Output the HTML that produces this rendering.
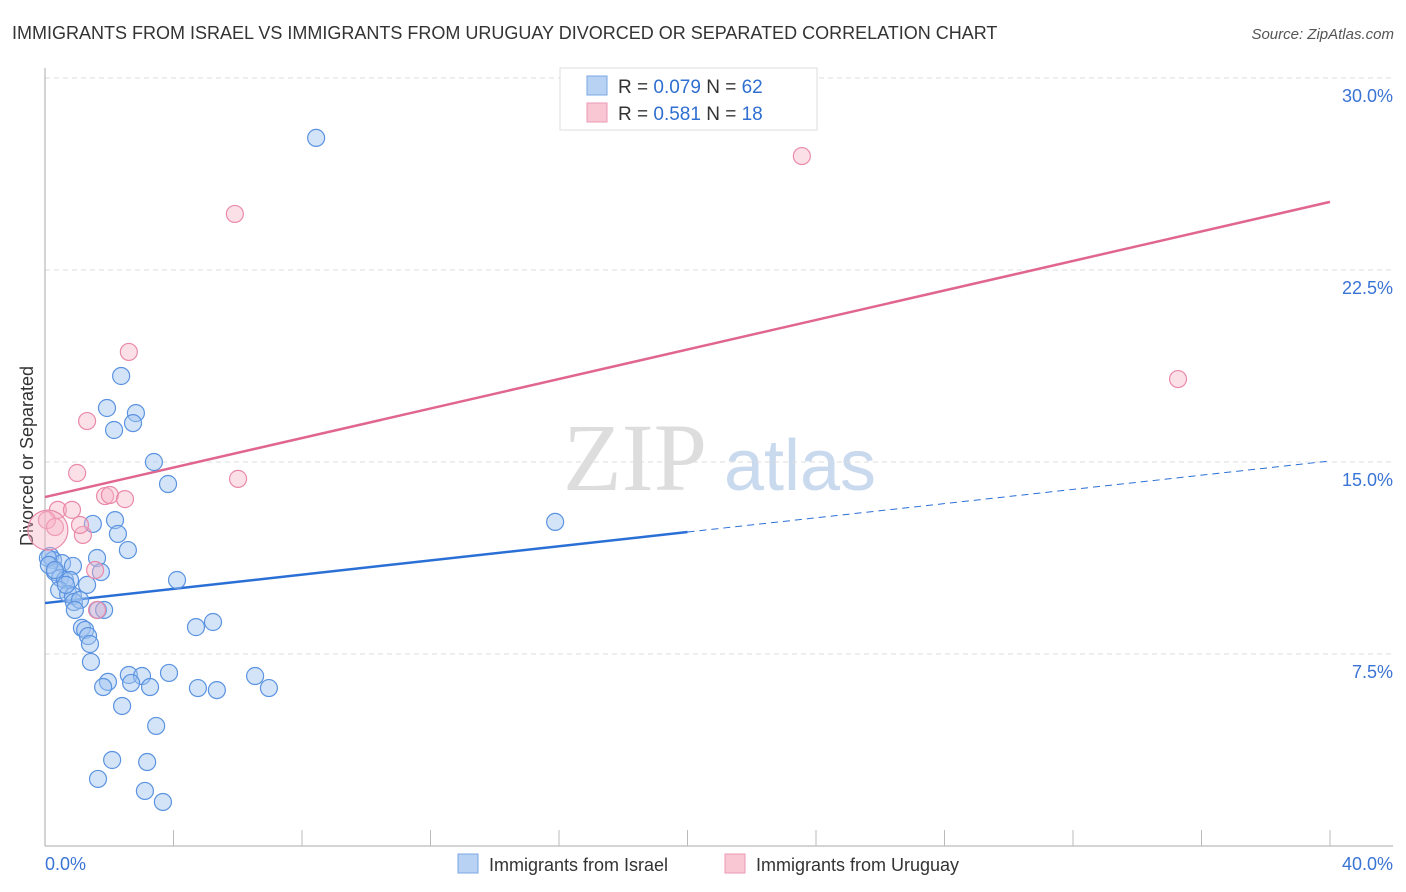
<!DOCTYPE html>
<html><head><meta charset="utf-8"><style>
body{margin:0;background:#fff;font-family:"Liberation Sans",sans-serif;}
svg{display:block}
</style></head><body>
<svg id="chart" width="1406" height="892" xmlns="http://www.w3.org/2000/svg">
<text x="12" y="39" font-size="18" fill="#333">IMMIGRANTS FROM ISRAEL VS IMMIGRANTS FROM URUGUAY DIVORCED OR SEPARATED CORRELATION CHART</text>
<text x="1394" y="39" font-size="15" fill="#555" font-style="italic" text-anchor="end">Source: ZipAtlas.com</text>
<text x="0" y="0" transform="translate(33,456) rotate(-90)" font-size="18" fill="#333" text-anchor="middle">Divorced or Separated</text>
<g><text x="635" y="490" font-size="96" fill="#ddd" font-family="Liberation Serif,serif" text-anchor="middle">ZIP</text><text x="800" y="490" font-size="72" fill="#c9d9ee" text-anchor="middle">atlas</text></g>
<g id="grid"></g><g id="axes"></g><g id="lines"></g><g id="pts"></g>
<g>
<rect x="560" y="68" width="257" height="62" fill="#fff" stroke="#ddd"/>
<rect x="587" y="76" width="20" height="19" fill="#b8d2f4" stroke="#7aa7e4"/>
<rect x="587" y="103" width="20" height="19" fill="#f9c6d4" stroke="#ec9ab4"/>
<text x="618" y="93" font-size="19" fill="#333">R = <tspan fill="#2f6fd0">0.079</tspan>   N = <tspan fill="#2f6fd0">62</tspan></text>
<text x="618" y="120" font-size="19" fill="#333">R =  <tspan fill="#2f6fd0">0.581</tspan>   N =  <tspan fill="#2f6fd0">18</tspan></text>
</g>
<g>
<rect x="458" y="854" width="20" height="19" fill="#b8d2f4" stroke="#7aa7e4"/>
<text x="489" y="871" font-size="18" fill="#333">Immigrants from Israel</text>
<rect x="725" y="854" width="20" height="19" fill="#f9c6d4" stroke="#ec9ab4"/>
<text x="756" y="871" font-size="18" fill="#333">Immigrants from Uruguay</text>
</g>
</svg>
<script>
const yTicks=[7.5,15,22.5,30];
const yTickLabels=["7.5%","15.0%","22.5%","30.0%"];
const xTickLabels=["0.0%","40.0%"];
const israelX=[8.44,2.37,1.93,2.83,2.15,2.74,3.39,3.83,15.88,2.18,1.49,2.27,2.58,1.62,0.16,0.25,0.53,0.87,0.31,1.74,0.47,0.62,0.78,1.31,0.44,0.72,0.87,0.90,4.11,1.65,1.84,1.15,1.25,1.34,1.40,1.43,4.70,5.23,2.61,3.02,3.86,6.54,1.96,1.81,2.68,3.27,4.76,5.35,6.97,2.40,3.46,2.09,3.18,1.65,3.11,3.67,0.09,0.12,0.31,1.09,0.93,0.65];
const israelY=[27.66,18.36,17.11,16.91,16.25,16.52,15.0,14.14,12.66,12.73,12.58,12.19,11.56,11.25,11.33,11.17,11.05,10.94,10.70,10.70,10.47,10.39,10.39,10.20,10.0,9.84,9.77,9.53,10.39,9.22,9.22,8.52,8.44,8.20,7.89,7.19,8.55,8.75,6.68,6.64,6.76,6.64,6.41,6.21,6.37,6.21,6.17,6.09,6.17,5.47,4.69,3.36,3.28,2.62,2.15,1.72,11.25,10.98,10.78,9.61,9.22,10.20];
const uruguayX=[23.56,5.91,2.61,35.27,1.31,1.0,6.01,1.87,2.02,2.49,0.40,0.84,0.06,0.31,1.18,1.09,1.56,1.62,0.09];
const uruguayY=[26.95,24.69,19.30,18.24,16.60,14.57,14.34,13.67,13.71,13.55,13.13,13.13,12.73,12.46,12.15,12.54,10.78,9.22,12.34];
const israelTrend=[9.49,15.04];
const uruguayTrend=[13.63,25.16];
const X0=45,X1=1330,Y0=846,YPX=192/7.5;
const sx=v=>X0+(v/40)*(X1-X0), sy=v=>Y0-v*YPX;
const NS="http://www.w3.org/2000/svg";
function mk(t,a,p){const e=document.createElementNS(NS,t);for(const k in a)e.setAttribute(k,a[k]);p.appendChild(e);return e;}
const grid=document.getElementById('grid'),axes=document.getElementById('axes'),lines=document.getElementById('lines'),pts=document.getElementById('pts');
yTicks.forEach((t,i)=>{
 const l=mk('line',{x1:45,x2:1393,y1:sy(t),y2:sy(t),stroke:'#ddd','stroke-dasharray':'5,4'},grid);
 
 
 const tx=mk('text',{x:1393,y:sy(t)+24,'font-size':18,fill:'#3a74d4','text-anchor':'end'},axes);
 tx.textContent=yTickLabels[i];
 
 
});
const ax=mk('line',{x1:45,x2:1393,y1:Y0,y2:Y0,stroke:'#aaa'},axes);


const ay=mk('line',{x1:45,x2:45,y1:68,y2:Y0,stroke:'#aaa'},axes);


for(let i=1;i<=10;i++){const tk=mk('line',{x1:sx(i*4),x2:sx(i*4),y1:Y0-16,y2:Y0,stroke:'#bbb'},axes);
 
 }
[[0,'start',45],[40,'end',1393]].forEach((d,i)=>{const t=mk('text',{x:d[2],y:870,'font-size':18,fill:'#3a74d4','text-anchor':d[1]},axes);t.textContent=xTickLabels[i];
 
 });
function pt(x,y,r,fill,stroke,name){const c=mk('circle',{cx:sx(x),cy:sy(y),r:r,fill:fill,stroke:stroke,'stroke-width':1.2},pts);
 
 }
israelX.forEach((x,i)=>pt(x,israelY[i],8.5,'rgba(160,196,240,0.45)','#5b93e0','israel-point'));
uruguayX.forEach((x,i)=>pt(x,uruguayY[i],i==uruguayX.length-1?20:8.5,'rgba(248,178,198,0.4)','#e98aaa','uruguay-point'));
const mid=20;
const bi=israelTrend[0]+(israelTrend[1]-israelTrend[0])*mid/40;
const l1=mk('line',{x1:sx(0),y1:sy(israelTrend[0]),x2:sx(mid),y2:sy(bi),stroke:'#2a6fd6','stroke-width':2.5},lines);


const l2=mk('line',{x1:sx(mid),y1:sy(bi),x2:sx(40),y2:sy(israelTrend[1]),stroke:'#2a6fd6','stroke-width':1,'stroke-dasharray':'7,5'},lines);


const l3=mk('line',{x1:sx(0),y1:sy(uruguayTrend[0]),x2:sx(40),y2:sy(uruguayTrend[1]),stroke:'#e0668f','stroke-width':2.5},lines);


</script>
</body></html>
